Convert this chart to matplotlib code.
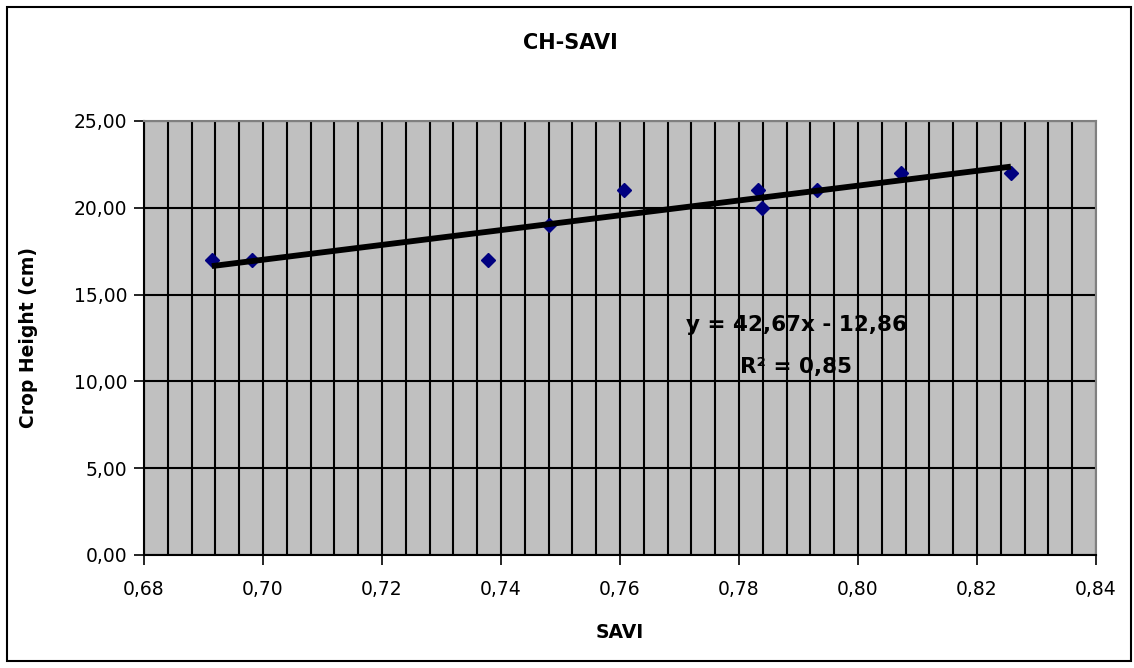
import matplotlib
matplotlib.use("Agg")
import matplotlib.pyplot as plt
import numpy as np
from matplotlib.ticker import MultipleLocator, FuncFormatter
from matplotlib.patches import Rectangle

# Data
savi = [0.6914, 0.6981, 0.7378, 0.7481, 0.7607, 0.7832, 0.7839, 0.7931, 0.8072, 0.8257]
crop_height = [17, 17, 17, 19, 21, 21, 20, 21, 22, 22]
slope = 42.67
intercept = -12.86
r2 = 0.85

title = "CH-SAVI"
xlabel = "SAVI"
ylabel = "Crop Height (cm)"

plt.rcParams['font.family'] = ['DejaVu Sans']

W, H = 1134, 668
fig = plt.figure(figsize=(W / 100, H / 100), dpi=100)
fig.patch.set_facecolor('white')

# outer chart border
fig.patches.append(Rectangle((7 / W, 1 - 661 / H), (1131 - 7) / W, (661 - 7) / H,
                             transform=fig.transFigure, fill=False,
                             edgecolor='black', linewidth=1.5, zorder=10))

left, right = 144 / W, 1096 / W
top, bottom = 1 - 121 / H, 1 - 555 / H
ax = fig.add_axes([left, bottom, right - left, top - bottom])
ax.set_facecolor('#C0C0C0')

ax.set_xlim(0.68, 0.84)
ax.set_ylim(0, 25)

ax.xaxis.set_major_locator(MultipleLocator(0.02))
ax.xaxis.set_minor_locator(MultipleLocator(0.004))
ax.yaxis.set_major_locator(MultipleLocator(5))
ax.xaxis.set_major_formatter(FuncFormatter(lambda v, p: f"{v:.2f}".replace('.', ',')))
ax.yaxis.set_major_formatter(FuncFormatter(lambda v, p: f"{v:.2f}".replace('.', ',')))

ax.grid(which='both', axis='x', color='black', linewidth=1.5, zorder=1)
ax.grid(which='major', axis='y', color='black', linewidth=1.5, zorder=1)
ax.set_axisbelow(True)

ax.tick_params(axis='both', which='major', direction='out', length=7, width=1.2,
               labelsize=13.5, colors='black')
ax.tick_params(axis='x', which='major', pad=11)
ax.tick_params(axis='y', which='major', pad=5)
ax.tick_params(axis='x', which='minor', length=0)

for s in ['left', 'bottom']:
    ax.spines[s].set_color('black')
    ax.spines[s].set_linewidth(1.5)
for s in ['top', 'right']:
    ax.spines[s].set_color('#808080')
    ax.spines[s].set_linewidth(1.5)

ax.plot(savi, crop_height, linestyle='none', marker='D', markersize=7.5,
        color='#000080', zorder=3)

xs = np.array([min(savi), max(savi)])
ax.plot(xs, slope * xs + intercept, color='black', linewidth=4.2, zorder=4,
        solid_capstyle='butt')

ax.text(0.7896, 13.25, f"y = {slope:.2f}x - {abs(intercept):.2f}".replace('.', ','),
        ha='center', va='center', fontsize=15.5, fontweight='bold', zorder=5)
ax.text(0.7896, 10.85, f"R\u00b2 = {r2:.2f}".replace('.', ','),
        ha='center', va='center', fontsize=15.5, fontweight='bold', zorder=5)

fig.text(570 / W, 1 - 43 / H, title, ha='center', va='center', fontsize=15, fontweight='bold')

ax.set_xlabel(xlabel, fontsize=13.5, fontweight='bold')
ax.xaxis.label.set_verticalalignment('center')
ax.xaxis.set_label_coords(0.5, (555 - 632) / 434)

ax.set_ylabel(ylabel, fontsize=13.5, fontweight='bold')
ax.yaxis.label.set_verticalalignment('center')
ax.yaxis.set_label_coords((29 - 144) / 952, 0.5)

fig.savefig('out.png', dpi=100)
